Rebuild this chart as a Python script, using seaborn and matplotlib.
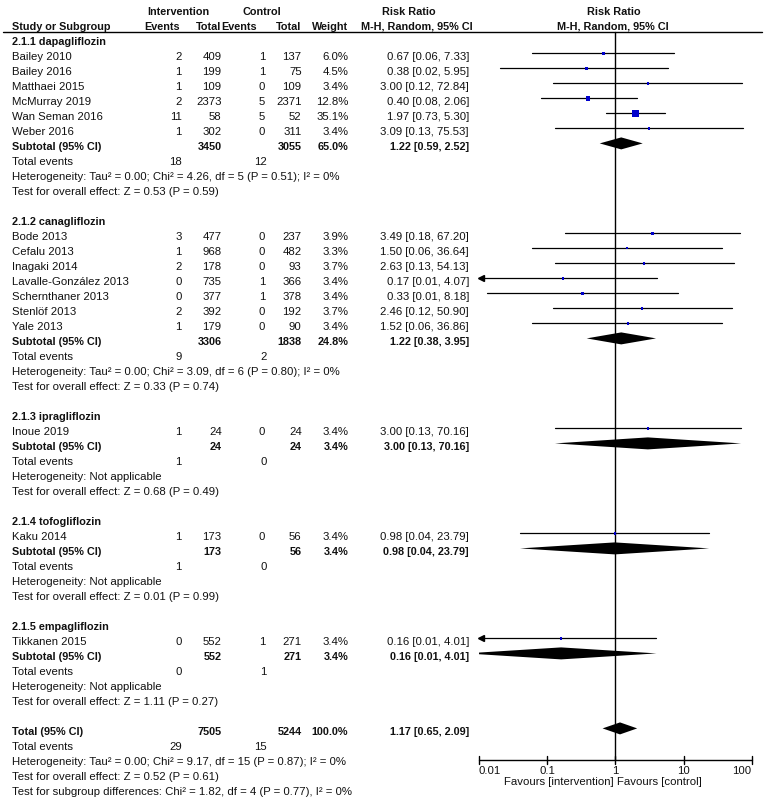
import numpy as np
import pandas as pd
import matplotlib
matplotlib.use("Agg")
import matplotlib.pyplot as plt
import seaborn as sns

# ---------------- data ----------------
group_names = ["2.1.1 dapagliflozin", "2.1.2 canagliflozin", "2.1.3 ipragliflozin",
               "2.1.4 tofogliflozin", "2.1.5 empagliflozin"]

study_names = ["Bailey 2010", "Bailey 2016", "Matthaei 2015", "McMurray 2019", "Wan Seman 2016", "Weber 2016",
               "Bode 2013", "Cefalu 2013", "Inagaki 2014", "Lavalle-González 2013", "Schernthaner 2013",
               "Stenlöf 2013", "Yale 2013",
               "Inoue 2019",
               "Kaku 2014",
               "Tikkanen 2015"]
study_group = [0, 0, 0, 0, 0, 0, 1, 1, 1, 1, 1, 1, 1, 2, 3, 4]
ev_int = [2, 1, 1, 2, 11, 1, 3, 1, 2, 0, 0, 2, 1, 1, 1, 0]
n_int = [409, 199, 109, 2373, 58, 302, 477, 968, 178, 735, 377, 392, 179, 24, 173, 552]
ev_ctl = [1, 1, 0, 5, 5, 0, 0, 0, 0, 1, 1, 0, 0, 0, 0, 1]
n_ctl = [137, 75, 109, 2371, 52, 311, 237, 482, 93, 366, 378, 192, 90, 24, 56, 271]
weights = [6.0, 4.5, 3.4, 12.8, 35.1, 3.4, 3.9, 3.3, 3.7, 3.4, 3.4, 3.7, 3.4, 3.4, 3.4, 3.4]
rr = [0.67, 0.38, 3.00, 0.40, 1.97, 3.09, 3.49, 1.50, 2.63, 0.17, 0.33, 2.46, 1.52, 3.00, 0.98, 0.16]
ci_lo = [0.06, 0.02, 0.12, 0.08, 0.73, 0.13, 0.18, 0.06, 0.13, 0.007, 0.0133, 0.12, 0.06, 0.13, 0.04, 0.0064]
ci_hi = [7.33, 5.95, 72.84, 2.06, 5.30, 75.53, 67.20, 36.64, 54.13, 4.07, 8.18, 50.90, 36.86, 70.16, 23.79, 4.01]

sub_n_int = [3450, 3306, 24, 173, 552]
sub_n_ctl = [3055, 1838, 24, 56, 271]
sub_weight = [65.0, 24.8, 3.4, 3.4, 3.4]
sub_rr = [1.22, 1.22, 3.00, 0.98, 0.16]
sub_lo = [0.59, 0.38, 0.13, 0.04, 0.0064]
sub_hi = [2.52, 3.95, 70.16, 23.79, 4.01]
sub_ev_int = [18, 9, 1, 1, 0]
sub_ev_ctl = [12, 2, 0, 0, 1]
sub_het = ["Heterogeneity: Tau² = 0.00; Chi² = 4.26, df = 5 (P = 0.51); I² = 0%",
           "Heterogeneity: Tau² = 0.00; Chi² = 3.09, df = 6 (P = 0.80); I² = 0%",
           "Heterogeneity: Not applicable",
           "Heterogeneity: Not applicable",
           "Heterogeneity: Not applicable"]
sub_test = ["Test for overall effect: Z = 0.53 (P = 0.59)",
            "Test for overall effect: Z = 0.33 (P = 0.74)",
            "Test for overall effect: Z = 0.68 (P = 0.49)",
            "Test for overall effect: Z = 0.01 (P = 0.99)",
            "Test for overall effect: Z = 1.11 (P = 0.27)"]

tot_n_int, tot_n_ctl, tot_weight = 7505, 5244, 100.0
tot_rr, tot_lo, tot_hi = 1.17, 0.65, 2.09
tot_ev_int, tot_ev_ctl = 29, 15
tot_het = "Heterogeneity: Tau² = 0.00; Chi² = 9.17, df = 15 (P = 0.87); I² = 0%"
tot_test = "Test for overall effect: Z = 0.52 (P = 0.61)"
tot_subgroup = "Test for subgroup differences: Chi² = 1.82, df = 4 (P = 0.77), I² = 0%"

axis_ticks = [0.01, 0.1, 1, 10, 100]
axis_labels = ["0.01", "0.1", "1", "10", "100"]

# ---------------- layout ----------------
W, H = 764, 798
ROW0, ROWH = 41.7, 15.0
def prow(px):
    return (px - ROW0) / ROWH

sns.set_style("white")
plt.rcParams["font.family"] = ["Liberation Sans", "DejaVu Sans"]
FS = 8.2
FSB = 7.8
TCOL = "#111111"

fig = plt.figure(figsize=(W / 100, H / 100), dpi=100)
ax = fig.add_axes([0, 0, 1, 1])
ax.set_xlim(0, W)
ax.set_ylim(prow(H), prow(0))
ax.axis("off")

x0_ax, x1_ax = 479.0, 751.7
fx = fig.add_axes([x0_ax / W, 0, (x1_ax - x0_ax) / W, 1], sharey=ax)
fx.set_xscale("log")
fx.set_xlim(0.01, 100)
fx.axis("off")

X_NAME, X_EVI, X_NI, X_EVC, X_NC, X_W, X_RR = 11.7, 181.7, 221.7, 265.0, 301.7, 348.3, 469.0

def txt(x, y, s, ha="left", bold=False):
    ax.text(x, y, s, ha=ha, va="center", fontsize=FSB if bold else FS,
            fontweight="bold" if bold else "normal", color=TCOL)

# headers
txt(178, -2, "Intervention", ha="center", bold=True)
txt(262, -2, "Control", ha="center", bold=True)
txt(408.5, -2, "Risk Ratio", ha="center", bold=True)
txt(614.3, -2, "Risk Ratio", ha="center", bold=True)
txt(X_NAME, -1, "Study or Subgroup", bold=True)
txt(180, -1, "Events", ha="right", bold=True)
txt(X_NI, -1, "Total", ha="right", bold=True)
txt(256.7, -1, "Events", ha="right", bold=True)
txt(X_NC, -1, "Total", ha="right", bold=True)
txt(X_W, -1, "Weight", ha="right", bold=True)
txt(417, -1, "M-H, Random, 95% CI", ha="center", bold=True)
txt(612.5, -1, "M-H, Random, 95% CI", ha="center", bold=True)
ax.plot([3, 762], [prow(32.3), prow(32.3)], color="black", lw=1.0)

def fmt_ci(e, l, h):
    return f"{e:.2f} [{l:.2f}, {h:.2f}]"

OFF = -0.22
DH = 0.4
study_rows = []
sub_rows = []
row = 0
for g, gname in enumerate(group_names):
    txt(X_NAME, row, gname, bold=True)
    row += 1
    for i in [k for k, gg in enumerate(study_group) if gg == g]:
        txt(X_NAME, row, study_names[i])
        txt(X_EVI, row, str(ev_int[i]), ha="right")
        txt(X_NI, row, str(n_int[i]), ha="right")
        txt(X_EVC, row, str(ev_ctl[i]), ha="right")
        txt(X_NC, row, str(n_ctl[i]), ha="right")
        txt(X_W, row, f"{weights[i]:.1f}%", ha="right")
        txt(X_RR, row, fmt_ci(rr[i], ci_lo[i], ci_hi[i]), ha="right")
        study_rows.append(row)
        row += 1
    txt(X_NAME, row, "Subtotal (95% CI)", bold=True)
    txt(X_NI, row, str(sub_n_int[g]), ha="right", bold=True)
    txt(X_NC, row, str(sub_n_ctl[g]), ha="right", bold=True)
    txt(X_W, row, f"{sub_weight[g]:.1f}%", ha="right", bold=True)
    txt(X_RR, row, fmt_ci(sub_rr[g], sub_lo[g], sub_hi[g]), ha="right", bold=True)
    sub_rows.append(row)
    row += 1
    txt(X_NAME, row, "Total events")
    txt(X_EVI, row, str(sub_ev_int[g]), ha="right")
    txt(266.7, row, str(sub_ev_ctl[g]), ha="right")
    row += 1
    txt(X_NAME, row, sub_het[g])
    row += 1
    txt(X_NAME, row, sub_test[g])
    row += 2

tot_row = row
txt(X_NAME, row, "Total (95% CI)", bold=True)
txt(X_NI, row, str(tot_n_int), ha="right", bold=True)
txt(X_NC, row, str(tot_n_ctl), ha="right", bold=True)
txt(X_W, row, f"{tot_weight:.1f}%", ha="right", bold=True)
txt(X_RR, row, fmt_ci(tot_rr, tot_lo, tot_hi), ha="right", bold=True)
txt(X_NAME, row + 1, "Total events")
txt(X_EVI, row + 1, str(tot_ev_int), ha="right")
txt(266.7, row + 1, str(tot_ev_ctl), ha="right")
txt(X_NAME, row + 2, tot_het)
txt(X_NAME, row + 3, tot_test)
txt(X_NAME, row + 4, tot_subgroup)

# ---------------- forest ----------------
axis_row = prow(760)
fx.plot([1, 1], [prow(32.3), axis_row], color="black", lw=1.0, clip_on=False)

sdf = pd.DataFrame({"rr": rr, "lo": ci_lo, "hi": ci_hi, "w": weights,
                    "y": np.array(study_rows) + OFF})
for _, r in sdf.iterrows():
    lo = max(r["lo"], 0.01)
    fx.plot([lo, r["hi"]], [r["y"], r["y"]], color="black", lw=0.9, clip_on=False)
    if r["lo"] < 0.01:
        fx.plot([0.0108], [r["y"]], marker="<", ms=4.2, color="black", clip_on=False)
sns.scatterplot(data=sdf, x="rr", y="y", size="w", sizes=(0, 26), size_norm=(0, 35.1),
                marker="s", color="#0000cc", edgecolor="none", legend=False, ax=fx, zorder=5)

def diamond(e, l, h, y):
    fx.fill([l, e, h, e], [y, y - DH, y, y + DH], color="black", lw=0, zorder=4)

for g in range(len(group_names)):
    diamond(sub_rr[g], sub_lo[g], sub_hi[g], sub_rows[g] + OFF)
diamond(tot_rr, tot_lo, tot_hi, tot_row + OFF)

# axis
fx.plot([0.01, 100], [axis_row, axis_row], color="black", lw=1.0, clip_on=False)
for t, lab in zip(axis_ticks, axis_labels):
    fx.plot([t, t], [axis_row - 0.3, axis_row + 0.3], color="black", lw=1.0, clip_on=False)
    ha = "left" if t == axis_ticks[0] else ("right" if t == axis_ticks[-1] else "center")
    fx.text(t, prow(770.5), lab, ha=ha, va="center", fontsize=FS, color=TCOL)
fx.text(0.95, prow(782.3), "Favours [intervention]", ha="right", va="center", fontsize=FS, color=TCOL)
fx.text(1.06, prow(782.3), "Favours [control]", ha="left", va="center", fontsize=FS, color=TCOL)

fx.set_ylim(prow(H), prow(0))
fig.savefig("out.png", dpi=100)
